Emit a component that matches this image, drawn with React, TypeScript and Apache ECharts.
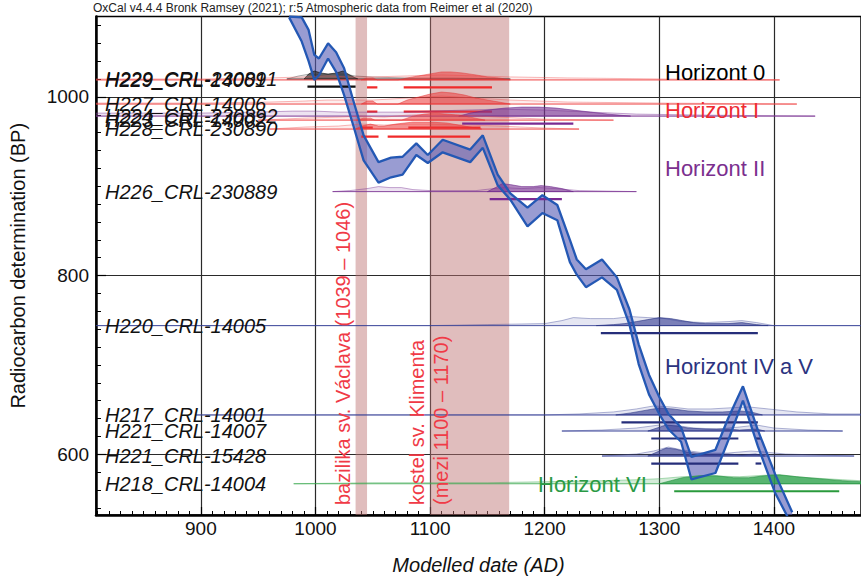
import React, { useEffect, useRef } from "react";
import * as echarts from "echarts";

// ---- axes ----
const X_MIN = 808.5;
const X_MAX = 1476;
const Y_MIN = 532;
const Y_MAX = 1090;
const xMajorTicks = [900, 1000, 1100, 1200, 1300, 1400];
const yMajorTicks = [600, 800, 1000];
const xMinorTicks: number[] = [];
for (let v = 810; v <= 1470; v += 10) if (v % 100 !== 0) xMinorTicks.push(v);
const yMinorTicks: number[] = [];
for (let v = 540; v <= 1080; v += 20) if (v % 200 !== 0) yMinorTicks.push(v);

const titleText = "OxCal v4.4.4 Bronk Ramsey (2021); r:5 Atmospheric data from Reimer et al (2020)";
const xAxisName = "Modelled date (AD)";
const yAxisName = "Radiocarbon determination (BP)";

// ---- calibration curve (AD, BP upper / lower edge) ----
const curveYears = [977, 988, 994, 999, 1003, 1011, 1018, 1025, 1033, 1042, 1055, 1066, 1076, 1088, 1098, 1111, 1135, 1146, 1159, 1170, 1185, 1198, 1211, 1222, 1228, 1236, 1250, 1263, 1274, 1282, 1291, 1300, 1308, 1319, 1328, 1349, 1360, 1373, 1386, 1401, 1416];
const curveUpper = [1090, 1089, 1075, 1047, 1043, 1060, 1050, 1032, 996, 957, 927, 932, 933, 948, 935, 952, 941, 957, 913, 892, 876, 890, 879, 840, 818, 807, 818, 798, 762, 723, 689, 664, 645, 630, 597, 605, 640, 676, 627, 578, 535];
const curveLower = [1089, 1062, 1040, 1019, 1024, 1043, 1028, 1002, 968, 929, 904, 910, 913, 935, 926, 938, 927, 943, 901, 885, 855, 870, 862, 815, 801, 787, 798, 784, 745, 701, 667, 645, 628, 614, 572, 579, 615, 660, 609, 557, 520];

// ---- historical building periods ----
const bandStart = [1035, 1100];
const bandEnd = [1045, 1169];
const bandTexts = ["bazilika sv. Václava (1039 – 1046)", "kostel sv. Klimenta", "(mezi 1100 – 1170)"];

// ---- horizons ----
const horizonNames = ["Horizont 0", "Horizont I", "Horizont II", "Horizont IV a V", "Horizont VI"];

// ---- samples ----
const sampleLabels = [
  "H229_CRL-230891", "H229_CRL-14001", "H227_CRL-14006", "H224_CRL-230892", "H223_CRL-14002", "H228_CRL-230890",
  "H226_CRL-230889", "H220_CRL-14005", "H217_CRL-14001", "H221_CRL-14007", "H221_CRL-15428", "H218_CRL-14004",
];
const sampleBP = [1020, 1019, 992, 978.5, 974, 964, 894, 744, 644, 626, 598, 567];
const sampleHorizon = [0, 1, 1, 2, 1, 1, 2, 3, 3, 3, 3, 4];
// relative probability [year, density]
const samplePrior: number[][][] = [
  [[975, 0], [985, 3], [995, 5], [1005, 4], [1015, 5], [1025, 5], [1035, 3], [1050, 2], [1080, 1], [1120, 1], [1170, 0]],
  [[808.5, 1], [900, 1], [960, 2], [990, 3], [1010, 4], [1030, 3], [1050, 3], [1080, 4], [1110, 5], [1140, 4], [1170, 3], [1220, 2], [1300, 1], [1405, 0]],
  [[808.5, 1], [900, 1], [960, 2], [990, 3], [1010, 4], [1030, 4], [1050, 4], [1080, 6], [1110, 8], [1140, 6], [1170, 4], [1220, 2], [1300, 1], [1420, 0]],
  [[808.5, 3], [850, 3], [900, 3], [950, 4], [980, 5], [1000, 5], [1020, 4], [1050, 4], [1080, 4], [1100, 5], [1130, 6], [1160, 7], [1200, 6], [1240, 4], [1280, 2], [1340, 1], [1436, 0]],
  [[950, 0], [990, 2], [1020, 3], [1040, 4], [1060, 3], [1080, 5], [1100, 6], [1130, 5], [1160, 3], [1200, 1], [1260, 0]],
  [[960, 0], [990, 2], [1020, 3], [1040, 5], [1060, 4], [1080, 5], [1100, 5], [1130, 4], [1160, 3], [1200, 1], [1230, 0]],
  [[1015, 0], [1030, 1], [1045, 3], [1055, 5], [1065, 4], [1075, 4], [1085, 2], [1100, 1], [1140, 1], [1155, 3], [1165, 4], [1180, 3], [1195, 4], [1210, 3], [1230, 1], [1280, 0]],
  [[808.5, 0], [1100, 0], [1150, 1], [1200, 2], [1215, 5], [1225, 8], [1240, 7], [1260, 7], [1275, 9], [1290, 8], [1305, 7], [1320, 4], [1340, 3], [1360, 4], [1372, 5], [1385, 3], [1400, 0], [1476, 0]],
  [[895, 0], [1200, 0], [1230, 1], [1260, 3], [1280, 6], [1295, 9], [1310, 8], [1325, 6], [1345, 6], [1360, 7], [1378, 8], [1395, 6], [1420, 3], [1450, 1], [1476, 1]],
  [[1215, 0], [1250, 1], [1280, 3], [1300, 6], [1312, 6], [1330, 3], [1350, 2], [1370, 4], [1385, 6], [1400, 3], [1430, 1], [1460, 0]],
  [[1250, 0], [1280, 2], [1295, 5], [1308, 9], [1320, 6], [1340, 3], [1360, 3], [1380, 5], [1392, 4], [1410, 2], [1440, 1], [1470, 0]],
  [[981, 0], [1050, 1], [1100, 1], [1150, 1], [1200, 2], [1250, 3], [1280, 4], [1300, 5], [1320, 7], [1340, 8], [1370, 7], [1400, 9], [1430, 6], [1460, 4], [1476, 3]],
];
const samplePosterior: number[][][] = [
  [[990, 0], [994, 5], [999, 8], [1005, 6], [1011, 5], [1018, 6], [1024, 8], [1030, 4], [1037, 0]],
  [[1040, 0], [1045, 2], [1050, 2], [1054, 0], [1072, 0], [1080, 2], [1090, 4], [1100, 6], [1110, 8], [1118, 8], [1128, 7], [1140, 5], [1150, 3], [1160, 2], [1170, 0]],
  [[1040, 0], [1045, 3], [1050, 3], [1054, 0], [1072, 0], [1080, 4], [1090, 7], [1100, 10], [1110, 12], [1120, 11], [1130, 9], [1140, 6], [1150, 4], [1160, 2], [1170, 0]],
  [[1125, 0], [1135, 3], [1150, 6], [1165, 8], [1180, 9], [1195, 9], [1210, 8], [1225, 6], [1240, 4], [1255, 2], [1275, 0]],
  [[1036, 0], [1042, 2], [1048, 2], [1052, 0], [1075, 0], [1085, 4], [1095, 6], [1105, 7], [1115, 6], [1125, 5], [1135, 3], [1148, 0]],
  [[1035, 0], [1040, 3], [1048, 5], [1055, 3], [1060, 3], [1070, 5], [1085, 7], [1100, 7], [1115, 6], [1125, 4], [1135, 2], [1145, 0]],
  [[1150, 0], [1157, 4], [1163, 8], [1170, 7], [1180, 5], [1190, 5], [1197, 6], [1205, 5], [1215, 3], [1225, 0]],
  [[1245, 0], [1260, 1], [1270, 2], [1280, 4], [1290, 6], [1300, 8], [1310, 7], [1320, 5], [1330, 3], [1340, 2], [1360, 2], [1372, 3], [1385, 1], [1395, 0]],
  [[1262, 0], [1275, 2], [1290, 5], [1300, 7], [1312, 6], [1325, 4], [1340, 3], [1355, 3], [1370, 4], [1380, 3], [1390, 0]],
  [[1290, 0], [1298, 3], [1306, 6], [1315, 5], [1325, 3], [1340, 2], [1360, 2], [1370, 1], [1385, 2], [1392, 0]],
  [[1290, 0], [1298, 4], [1306, 8], [1314, 7], [1324, 4], [1340, 2], [1360, 2], [1372, 1], [1384, 2], [1392, 0]],
  [[1300, 0], [1310, 3], [1320, 6], [1335, 8], [1350, 8], [1365, 6], [1378, 6], [1392, 8], [1405, 9], [1420, 7], [1440, 5], [1460, 3], [1476, 2]],
];
const sampleRanges: number[][][] = [
  [[993, 1035]],
  [[1045, 1054], [1077, 1154]],
  [[1045, 1054], [1077, 1154]],
  [[1128, 1225]],
  [[1040, 1050], [1081, 1144]],
  [[1040, 1055], [1063, 1135]],
  [[1152, 1215]],
  [[1249, 1386]],
  [[1267, 1386]],
  [[1293, 1369], [1384, 1389]],
  [[1293, 1369], [1384, 1389]],
  [[1313, 1457]],
];

// ---- styles ----
const FONT = '"Liberation Sans", Arial, Helvetica, sans-serif';
const DENSITY_PX = 1;
const BAR_OFFSET = 7.5;
const horizonStyles = [
  { text: "#000000", line: "rgba(50,50,50,0.75)", priorFill: "rgba(70,70,70,0.10)", priorStroke: "rgba(60,60,60,0.5)", postFill: "rgba(45,45,45,0.7)", postStroke: "rgba(20,20,20,0.8)", bar: "#111111" },
  { text: "#ee2b32", line: "rgba(240,60,60,0.7)", priorFill: "rgba(240,80,80,0.10)", priorStroke: "rgba(240,80,80,0.5)", postFill: "rgba(235,50,50,0.5)", postStroke: "rgba(230,50,50,0.6)", bar: "#f02a2a" },
  { text: "#7b2f8e", line: "rgba(125,55,150,0.75)", priorFill: "rgba(140,80,170,0.16)", priorStroke: "rgba(125,55,150,0.55)", postFill: "rgba(120,50,145,0.6)", postStroke: "rgba(110,40,140,0.7)", bar: "#7a2a92" },
  { text: "#2b3380", line: "rgba(50,60,150,0.7)", priorFill: "rgba(70,80,160,0.14)", priorStroke: "rgba(60,70,150,0.5)", postFill: "rgba(50,58,145,0.6)", postStroke: "rgba(40,50,130,0.7)", bar: "#262e7a" },
  { text: "#2a9a45", line: "rgba(60,170,80,0.55)", priorFill: "rgba(60,170,80,0.22)", priorStroke: "rgba(60,170,80,0.5)", postFill: "rgba(40,160,70,0.72)", postStroke: "rgba(30,140,60,0.7)", bar: "#2a9a3c" },
];
const horizonLabelPos = [
  { x: 665, y: 72 }, { x: 665, y: 110 }, { x: 665, y: 168 }, { x: 665, y: 366 }, { x: 538, y: 484 },
];
const bandTextPos = [{ x: 343, y: 505 }, { x: 417, y: 505 }, { x: 441, y: 505 }];

export default function App() {
  const ref = useRef<HTMLDivElement>(null);
  useEffect(() => {
    if (!ref.current) return;
    const chart = echarts.init(ref.current, undefined, { renderer: "svg" });

    const sampleData = sampleLabels.map((_, i) => [samplePrior[i][0][0], sampleBP[i], i]);

    const renderSample = (params: any, api: any) => {
      const i = api.value(2) as number;
      const base = sampleBP[i];
      const st = horizonStyles[sampleHorizon[i]];
      const pt = (yr: number, p: number) => {
        const c = api.coord([yr, base]);
        return [c[0], c[1] - p * DENSITY_PX];
      };
      const shape = (d: number[][]) => {
        const pts = d.map(([yr, p]) => pt(yr, p));
        pts.unshift(pt(d[0][0], 0));
        pts.push(pt(d[d.length - 1][0], 0));
        return pts;
      };
      const prior = samplePrior[i];
      const post = samplePosterior[i];
      const left = pt(prior[0][0], 0);
      const right = pt(prior[prior.length - 1][0], 0);
      const children: any[] = [
        { type: "polygon", shape: { points: shape(prior) }, style: { fill: st.priorFill, stroke: st.priorStroke, lineWidth: 0.8 } },
        { type: "line", shape: { x1: left[0], y1: left[1], x2: right[0], y2: right[1] }, style: { stroke: st.line, lineWidth: 1 } },
        { type: "polygon", shape: { points: shape(post) }, style: { fill: st.postFill, stroke: st.postStroke, lineWidth: 0.8 } },
      ];
      for (const [a, b] of sampleRanges[i]) {
        const pa = pt(a, 0);
        const pb = pt(b, 0);
        children.push({
          type: "line",
          shape: { x1: pa[0], y1: pa[1] + BAR_OFFSET, x2: pb[0], y2: pb[1] + BAR_OFFSET },
          style: { stroke: st.bar, lineWidth: 2.2 },
        });
      }
      return { type: "group", children };
    };

    const renderLabel = (params: any, api: any) => {
      const i = api.value(2) as number;
      const c = api.coord([X_MIN, sampleBP[i]]);
      return {
        type: "text",
        x: c[0] + 9,
        y: c[1],
        style: {
          text: sampleLabels[i],
          font: `italic 20px ${FONT}`,
          fill: "#111",
          align: "left",
          verticalAlign: "middle",
          textAlign: "left",
          textVerticalAlign: "middle",
        },
      };
    };

    const renderBand = (params: any, api: any) => {
      const a = api.coord([api.value(0), Y_MAX]);
      const b = api.coord([api.value(1), Y_MIN]);
      return {
        type: "rect",
        shape: { x: a[0], y: a[1], width: b[0] - a[0], height: b[1] - a[1] },
        style: { fill: "rgba(190,118,118,0.48)" },
      };
    };

    const renderCurveFill = (params: any, api: any) => {
      if (params.dataIndexInside !== 0) return null;
      const n = params.dataInsideLength;
      const up: number[][] = [];
      const lo: number[][] = [];
      for (let j = 0; j < n; j++) {
        up.push(api.coord([api.value(0, j), api.value(1, j)]));
        lo.push(api.coord([api.value(0, j), api.value(2, j)]));
      }
      return {
        type: "polygon",
        shape: { points: up.concat(lo.reverse()) },
        style: { fill: "rgba(85,90,180,0.6)" },
      };
    };

    const curveColor = "#2458b4";
    const plain = (v: number) => String(v);

    const option: any = {
      animation: false,
      grid: { left: 92, right: -2, top: 16.5, bottom: 64.5, show: true, borderColor: "#000", borderWidth: 1.5, backgroundColor: "transparent" },
      xAxis: [
        {
          type: "value", min: X_MIN, max: X_MAX, position: "bottom", splitNumber: 6,
          name: xAxisName, nameLocation: "middle", nameGap: 40,
          nameTextStyle: { fontFamily: FONT, fontSize: 20, fontStyle: "italic", color: "#111" },
          axisLine: { show: true, onZero: false, lineStyle: { color: "#000", width: 2.5 } },
          axisTick: { show: true, inside: true, length: 8, customValues: xMajorTicks, lineStyle: { color: "#000", width: 1.2 } },
          axisLabel: { customValues: xMajorTicks, formatter: plain, margin: 4, fontFamily: FONT, fontSize: 19, color: "#111" },
          splitLine: { show: true, lineStyle: { color: "#2a2a2a", width: 1.2 } },
        },
        {
          type: "value", min: X_MIN, max: X_MAX, position: "bottom",
          axisLine: { show: false },
          axisTick: { show: true, inside: true, length: 4, customValues: xMinorTicks, lineStyle: { color: "#000", width: 1 } },
          axisLabel: { show: false },
          splitLine: { show: false },
        },
      ],
      yAxis: [
        {
          type: "value", min: Y_MIN, max: Y_MAX, position: "left", splitNumber: 3,
          name: yAxisName, nameLocation: "middle", nameGap: 68, nameRotate: 90,
          nameTextStyle: { fontFamily: FONT, fontSize: 20, color: "#111" },
          axisLine: { show: true, onZero: false, lineStyle: { color: "#000", width: 2.5 } },
          axisTick: { show: true, inside: true, length: 10, customValues: yMajorTicks, lineStyle: { color: "#000", width: 1.2 } },
          axisLabel: { customValues: yMajorTicks, formatter: plain, margin: 7, fontFamily: FONT, fontSize: 19, color: "#111" },
          splitLine: { show: true, lineStyle: { color: "#2a2a2a", width: 1.2 } },
        },
        {
          type: "value", min: Y_MIN, max: Y_MAX, position: "left",
          axisLine: { show: false },
          axisTick: { show: true, inside: true, length: 5, customValues: yMinorTicks, lineStyle: { color: "#000", width: 1 } },
          axisLabel: { show: false },
          splitLine: { show: false },
        },
      ],
      series: [
        {
          type: "custom", name: "periods", xAxisIndex: 0, yAxisIndex: 0, clip: true, z: 1,
          data: bandStart.map((s, k) => [s, bandEnd[k]]),
          encode: { x: [0, 1] },
          renderItem: renderBand,
        },
        {
          type: "custom", name: "curveFill", xAxisIndex: 0, yAxisIndex: 0, clip: true, z: 2,
          data: curveYears.map((y, k) => [y, curveUpper[k], curveLower[k]]),
          encode: { x: 0, y: [1, 2] },
          renderItem: renderCurveFill,
        },
        {
          type: "custom", name: "samples", xAxisIndex: 0, yAxisIndex: 0, clip: true, z: 3,
          data: sampleData,
          encode: { x: 0, y: 1 },
          renderItem: renderSample,
        },
        {
          type: "line", name: "curveUpper", xAxisIndex: 0, yAxisIndex: 0, z: 4,
          data: curveYears.map((y, k) => [y, curveUpper[k]]),
          showSymbol: false, symbol: "none",
          lineStyle: { color: curveColor, width: 2.3 },
        },
        {
          type: "line", name: "curveLower", xAxisIndex: 0, yAxisIndex: 0, z: 4,
          data: curveYears.map((y, k) => [y, curveLower[k]]),
          showSymbol: false, symbol: "none",
          lineStyle: { color: curveColor, width: 2.3 },
        },
        {
          type: "custom", name: "labels", xAxisIndex: 0, yAxisIndex: 0, clip: false, z: 5,
          data: sampleData,
          encode: { x: 0, y: 1 },
          renderItem: renderLabel,
        },
      ],
      graphic: [
        {
          type: "text", left: 93, top: 2, z: 10,
          style: { text: titleText, font: `12px ${FONT}`, fill: "#222" },
        },
        ...horizonNames.map((t, k) => ({
          type: "text", x: horizonLabelPos[k].x, y: horizonLabelPos[k].y, z: 10,
          style: {
            text: t, font: `22px ${FONT}`, fill: horizonStyles[k].text,
            align: "left", verticalAlign: "middle", textAlign: "left", textVerticalAlign: "middle",
          },
        })),
        ...bandTexts.map((t, k) => ({
          type: "text", x: bandTextPos[k].x, y: bandTextPos[k].y, rotation: Math.PI / 2, z: 10,
          style: {
            text: t, font: `20px ${FONT}`, fill: "#f03a46",
            align: "left", verticalAlign: "middle", textAlign: "left", textVerticalAlign: "middle",
          },
        })),
      ],
    };
    chart.setOption(option);
    return () => chart.dispose();
  }, []);
  return <div ref={ref} style={{ width: 861, height: 580, position: "absolute", left: 0, top: 0 }} />;
}
